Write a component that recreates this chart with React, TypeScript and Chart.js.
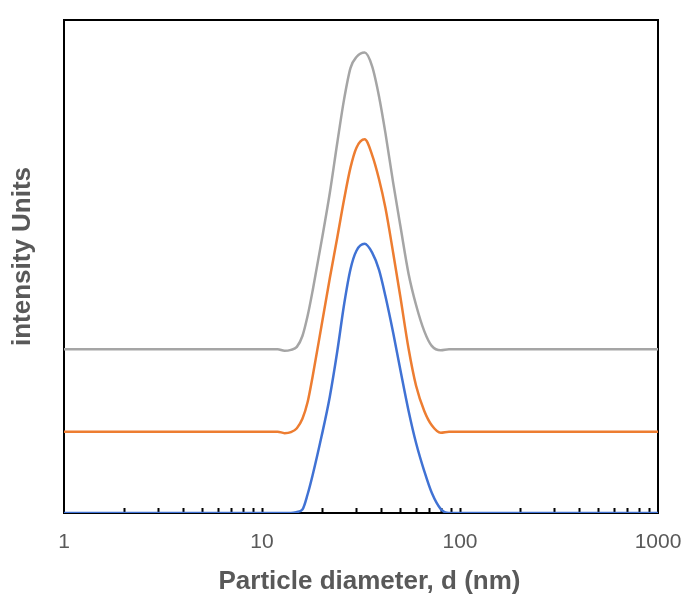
import React, { useEffect, useRef } from "react";
import { Chart, registerables } from "chart.js";

Chart.register(...registerables);

const DIAMETERS = [1, 2, 5, 10, 12, 13, 14, 15, 16, 17, 18, 20, 22, 24, 26, 28, 30, 33, 36, 39, 42, 46, 50, 55, 60, 66, 72, 80, 88, 95, 100, 200, 500, 1000];
const BLUE = [0, 0, 0, 0, 0, 0, 0, 0.002, 0.007, 0.038, 0.076, 0.156, 0.236, 0.328, 0.424, 0.495, 0.532, 0.546, 0.528, 0.493, 0.44, 0.365, 0.29, 0.207, 0.142, 0.085, 0.041, 0.008, 0, 0, 0, 0, 0, 0];
const ORANGE = [0.165, 0.165, 0.165, 0.165, 0.165, 0.162, 0.164, 0.172, 0.191, 0.225, 0.276, 0.381, 0.476, 0.559, 0.637, 0.701, 0.741, 0.758, 0.726, 0.677, 0.619, 0.527, 0.438, 0.333, 0.258, 0.207, 0.178, 0.163, 0.165, 0.165, 0.165, 0.165, 0.165, 0.165];
const GRAY = [0.332, 0.332, 0.332, 0.332, 0.332, 0.329, 0.331, 0.337, 0.359, 0.4, 0.45, 0.552, 0.649, 0.751, 0.84, 0.903, 0.925, 0.934, 0.906, 0.845, 0.771, 0.669, 0.582, 0.485, 0.422, 0.369, 0.339, 0.33, 0.332, 0.332, 0.332, 0.332, 0.332, 0.332];
const X_TICKS = [1, 10, 100, 1000];
const X_MINOR = [2, 3, 4, 5, 6, 7, 8, 9, 10, 20, 30, 40, 50, 60, 70, 80, 90, 100, 200, 300, 400, 500, 600, 700, 800, 900];
const X_TITLE = "Particle diameter, d (nm)";
const Y_TITLE = "intensity Units";

const FONT = "'Liberation Sans', Arial, Helvetica, sans-serif";
const TEXT = "#595959";

const framePlugin = {
  id: "frame",
  beforeDatasetsDraw(chart: any) {
    const { ctx, chartArea } = chart;
    const xs = chart.scales.x;
    ctx.save();
    ctx.strokeStyle = "#000";
    ctx.lineWidth = 2;
    ctx.beginPath();
    for (const v of X_MINOR) {
      const px = Math.round(xs.getPixelForValue(v)) + 0.5;
      ctx.moveTo(px, chartArea.bottom);
      ctx.lineTo(px, chartArea.bottom - 5);
    }
    ctx.stroke();
    ctx.strokeRect(chartArea.left, chartArea.top, chartArea.right - chartArea.left, chartArea.bottom - chartArea.top);
    ctx.restore();
  },
  afterDraw(chart: any) {
    const { ctx } = chart;
    ctx.save();
    ctx.fillStyle = TEXT;
    ctx.font = `bold 26px ${FONT}`;
    ctx.textAlign = "center";
    ctx.textBaseline = "alphabetic";
    ctx.fillText(X_TITLE, 369.5, 589);
    ctx.translate(29.5, 256.5);
    ctx.rotate(-Math.PI / 2);
    ctx.fillText(Y_TITLE, 0, 0);
    ctx.restore();
  },
};

export default function App() {
  const ref = useRef<HTMLCanvasElement | null>(null);
  useEffect(() => {
    const mk = (vals: number[]) => DIAMETERS.map((d, i) => ({ x: d, y: vals[i] }));
    const ds = (label: string, vals: number[], color: string) => ({
      label,
      data: mk(vals),
      borderColor: color,
      backgroundColor: color,
      borderWidth: 2.5,
      pointRadius: 0,
      cubicInterpolationMode: "monotone",
      fill: false,
    });
    const chart = new Chart(ref.current as HTMLCanvasElement, {
      type: "line",
      data: {
        datasets: [
          ds("Gray", GRAY, "#A5A5A5"),
          ds("Orange", ORANGE, "#ED7D31"),
          ds("Blue", BLUE, "#4072D4"),
        ],
      },
      options: {
        animation: false,
        responsive: false,
        devicePixelRatio: 1,
        layout: { padding: { left: 0, right: 36, top: 20, bottom: 0 } },
        plugins: { legend: { display: false }, tooltip: { enabled: false } },
        scales: {
          x: {
            type: "logarithmic",
            min: 1,
            max: 1000,
            grid: { display: false, drawTicks: false },
            border: { display: false },
            afterBuildTicks: (scale: any) => {
              scale.ticks = X_TICKS.map((v) => ({ value: v }));
            },
            afterFit: (scale: any) => {
              scale.height = 93;
              scale.paddingLeft = 0;
              scale.paddingRight = 0;
            },
            ticks: {
              autoSkip: false,
              maxRotation: 0,
              padding: 17,
              color: TEXT,
              font: { family: FONT, size: 21 },
              callback: (v: any) => String(v),
            },
            title: { display: false },
          },
          y: {
            min: 0,
            max: 1,
            grid: { display: false, drawTicks: false },
            border: { display: false },
            ticks: { display: false },
            afterFit: (scale: any) => {
              scale.width = 64;
            },
            title: { display: false },
          },
        },
      },
      plugins: [framePlugin],
    } as any);
    return () => chart.destroy();
  }, []);
  return (
    <div style={{ position: "fixed", left: 0, top: 0, width: 694, height: 606, background: "#fff" }}>
      <canvas ref={ref} width={694} height={606} />
    </div>
  );
}
